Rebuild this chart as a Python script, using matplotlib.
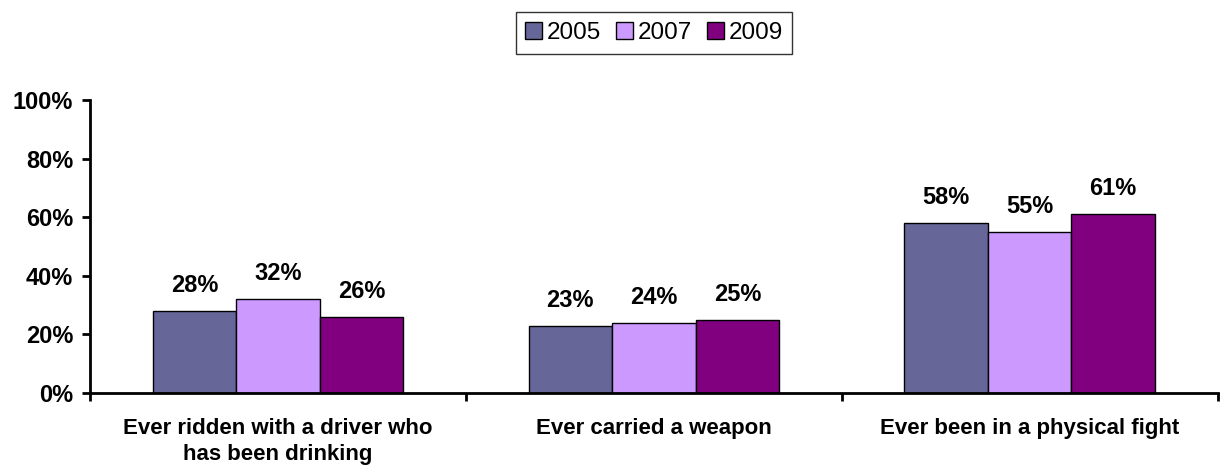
import numpy as np
import matplotlib
matplotlib.use("Agg")
import matplotlib.pyplot as plt

plt.rcParams['font.family'] = ['Liberation Sans', 'DejaVu Sans']

categories = ["Ever ridden with a driver who\nhas been drinking",
              "Ever carried a weapon",
              "Ever been in a physical fight"]
years = ["2005", "2007", "2009"]
values = {
    "2005": [28, 23, 58],
    "2007": [32, 24, 55],
    "2009": [26, 25, 61],
}
colors = ["#666699", "#CC99FF", "#800080"]
yticks = [0, 20, 40, 60, 80, 100]

fig = plt.figure(figsize=(12.2, 4.71), dpi=100)
ax = fig.add_axes([0.0738, 0.1656, 0.9242, 0.6221])

x = np.arange(len(categories))
w = 1 / 4.5
for i, (yr, c) in enumerate(zip(years, colors)):
    vals = values[yr]
    bars = ax.bar(x + (i - 1) * w, vals, w, color=c, edgecolor="black",
                  linewidth=1.0, label=yr)
    for b, v in zip(bars, vals):
        ax.annotate(f"{v}%", (b.get_x() + b.get_width() / 2, v),
                    xytext=(0, 10), textcoords="offset points",
                    ha="center", va="bottom", fontsize=17, fontweight="bold")

ax.set_xlim(-0.5, len(categories) - 0.5)
ax.set_ylim(0, 100)
ax.set_yticks(yticks)
ax.set_yticklabels([f"{t}%" for t in yticks], fontsize=17, fontweight="bold")
ax.set_xticks(x)
ax.set_xticklabels(categories, fontsize=16, fontweight="bold", linespacing=1.3)
ax.tick_params(axis="x", length=0, pad=18)
ax.set_xticks(np.arange(len(categories) + 1) - 0.5, minor=True)
ax.tick_params(axis="x", which="minor", length=6, width=2, direction="out")
ax.tick_params(axis="y", length=6, width=2, direction="out", pad=6)
for s in ["top", "right"]:
    ax.spines[s].set_visible(False)
for s in ["left", "bottom"]:
    ax.spines[s].set_linewidth(2)

leg = fig.legend(loc="center", bbox_to_anchor=(654 / 1220, 1 - 33 / 471), ncol=3,
                 fontsize=17.5, frameon=True, fancybox=False, edgecolor="black",
                 handlelength=0.7, handleheight=0.7, handletextpad=0.2,
                 columnspacing=0.6, borderpad=0.4)
leg.get_frame().set_linewidth(1.0)

fig.savefig("out.png", dpi=100)
